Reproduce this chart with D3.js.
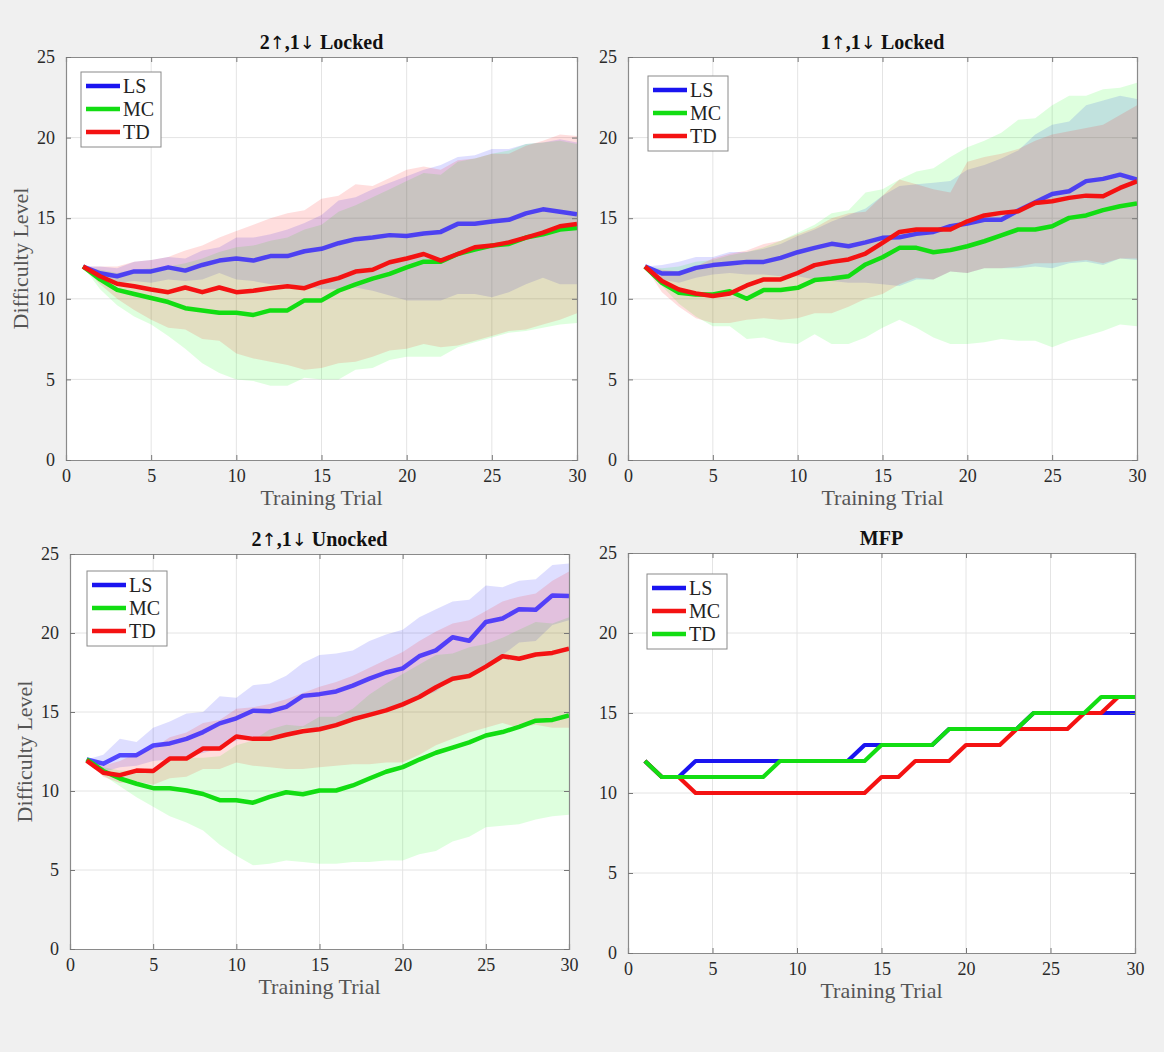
<!DOCTYPE html>
<html><head><meta charset="utf-8">
<script src="https://cdn.jsdelivr.net/npm/d3@7"></script>
<style>body{margin:0;background:#f0f0f0}</style>
</head><body>
<svg id="chart" width="1164" height="1052"></svg>
<script>
// ---------------- DATA ----------------
const trials = [1,2,3,4,5,6,7,8,9,10,11,12,13,14,15,16,17,18,19,20,21,22,23,24,25,26,27,28,29,30];
const xTicks = [0,5,10,15,20,25,30];
const yTicks = [0,5,10,15,20,25];
const panelTitles = ["2\u2191,1\u2193 Locked", "1\u2191,1\u2193 Locked", "2\u2191,1\u2193 Unocked", "MFP"];
const seriesNames = ["LS", "MC", "TD"];
const mfpNames = ["LS", "MC", "TD"];

// Panel 1: 2↑,1↓ Locked
const p1_LS_mean  = [12,11.58,11.4,11.7,11.7,11.95,11.75,12.1,12.37,12.5,12.37,12.65,12.65,12.95,13.1,13.45,13.7,13.8,13.95,13.9,14.05,14.15,14.65,14.65,14.8,14.9,15.3,15.55,15.4,15.25];
const p1_LS_upper = [12,12.0,11.9,12.3,12.4,12.6,12.5,13.0,13.2,13.8,13.8,14.0,14.3,14.7,15.2,16.1,16.3,16.8,17.2,17.6,18.0,18.3,18.8,18.9,19.3,19.3,19.6,19.7,19.9,19.7];
const p1_LS_lower = [12,11.3,11.0,11.1,11.0,11.2,11.1,11.2,11.6,11.2,11.1,10.9,10.9,10.8,10.6,10.6,10.7,10.5,10.2,9.9,9.9,9.9,10.3,10.3,10.1,10.4,10.9,11.3,10.9,10.9];
const p1_MC_mean  = [12,11.2,10.55,10.3,10.05,9.8,9.42,9.28,9.13,9.13,9.0,9.28,9.28,9.9,9.9,10.5,10.9,11.25,11.55,11.95,12.3,12.3,12.78,13.05,13.3,13.4,13.8,14.0,14.3,14.4];
const p1_MC_upper = [12,11.8,11.6,11.8,11.9,12.0,12.2,12.5,12.9,13.2,13.3,13.6,13.8,14.3,14.6,15.4,15.8,16.3,16.8,17.3,17.8,17.7,18.5,18.7,19.0,19.2,19.6,19.7,19.8,19.6];
const p1_MC_lower = [12,10.6,9.6,8.9,8.4,7.7,6.9,6.0,5.4,5.0,4.9,4.6,4.6,5.1,5.0,5.0,5.6,5.7,6.2,6.4,6.4,6.4,7.0,7.3,7.6,7.9,8.0,8.2,8.4,8.5];
const p1_TD_mean  = [12,11.4,10.93,10.78,10.58,10.41,10.7,10.41,10.7,10.41,10.5,10.66,10.78,10.66,11.03,11.28,11.69,11.8,12.27,12.5,12.78,12.37,12.78,13.2,13.3,13.5,13.8,14.1,14.5,14.64];
const p1_TD_upper = [12,12.0,12.0,12.3,12.4,12.6,13.0,13.3,13.8,14.2,14.6,15.0,15.3,15.5,16.2,16.4,17.1,17.0,17.5,18.0,18.2,18.0,18.6,18.7,19.0,19.0,19.5,19.8,20.2,20.1];
const p1_TD_lower = [12,10.9,10.0,9.3,8.7,8.2,8.1,7.5,7.4,6.6,6.3,6.1,5.9,5.6,5.7,6.0,6.1,6.4,6.8,6.9,7.2,7.0,7.1,7.4,7.7,8.0,8.1,8.4,8.7,9.1];

// Panel 2: 1↑,1↓ Locked
const p2_LS_mean  = [12.02,11.57,11.57,11.92,12.09,12.19,12.29,12.29,12.54,12.89,13.16,13.41,13.26,13.5,13.78,13.82,14.03,14.15,14.5,14.67,14.9,14.9,15.48,15.99,16.5,16.67,17.3,17.44,17.7,17.4];
const p2_LS_upper = [12,12.1,12.3,12.6,12.6,12.9,12.9,13.1,13.4,13.9,14.3,14.8,15.2,15.6,16.4,17.0,17.1,17.2,17.3,18.0,18.3,18.7,19.2,20.2,20.8,21.0,22.0,22.3,22.6,22.4];
const p2_LS_lower = [12,11.2,11.0,11.3,11.5,11.6,11.5,11.5,11.4,11.4,11.2,11.1,11.0,11.0,10.9,10.8,11.2,11.2,11.7,11.6,11.9,11.9,11.9,12.0,11.9,12.2,12.3,12.1,12.5,12.4];
const p2_MC_mean  = [12,10.99,10.37,10.27,10.27,10.47,10.0,10.54,10.54,10.68,11.16,11.26,11.4,12.13,12.58,13.16,13.16,12.89,13.02,13.26,13.57,13.93,14.3,14.3,14.5,15.02,15.17,15.5,15.74,15.91];
const p2_MC_upper = [12,11.9,12.0,12.3,12.4,12.7,12.9,13.2,13.6,14.1,14.6,15.3,15.5,16.6,16.8,17.4,17.9,18.1,18.8,19.4,19.8,20.3,21.1,21.2,22.0,22.6,22.6,23.0,23.1,23.4];
const p2_MC_lower = [12,10.8,9.7,8.9,8.3,8.3,7.5,7.6,7.3,7.2,7.8,7.2,7.2,7.6,8.2,8.7,8.2,7.6,7.2,7.2,7.3,7.5,7.4,7.4,7.0,7.4,7.7,8.0,8.4,8.3];
const p2_TD_mean  = [12,11.1,10.58,10.33,10.17,10.33,10.83,11.2,11.2,11.6,12.09,12.29,12.44,12.81,13.47,14.15,14.3,14.3,14.3,14.81,15.17,15.33,15.43,15.95,16.05,16.26,16.4,16.36,16.88,17.29];
const p2_TD_upper = [12,11.8,11.7,12.0,12.5,12.8,13.0,13.4,13.6,14.0,14.4,15.0,15.3,15.4,16.4,17.4,17.1,16.8,16.6,18.5,18.8,19.0,19.3,19.8,20.2,20.4,20.6,20.8,21.4,22.0];
const p2_TD_lower = [12,10.4,9.5,8.8,8.5,8.5,8.7,8.8,8.7,8.8,9.1,9.1,9.5,10.0,10.3,10.9,11.3,11.2,11.7,11.6,11.9,11.9,12.0,12.2,12.2,12.3,12.4,12.2,12.5,12.5];

// Panel 3: 2↑,1↓ Unocked
const p3_LS_mean  = [11.99,11.73,12.27,12.27,12.88,13.01,13.3,13.73,14.28,14.6,15.08,15.04,15.32,16.02,16.13,16.3,16.67,17.11,17.5,17.76,18.53,18.9,19.73,19.51,20.7,20.92,21.51,21.47,22.38,22.34];
const p3_LS_upper = [12,12.3,13.3,13.1,14.0,14.4,14.9,15.0,16.0,15.9,16.7,16.8,17.3,18.1,18.6,18.7,18.9,19.5,19.9,20.2,21.0,21.5,22.0,22.1,23.0,22.9,23.3,23.4,24.3,24.4];
const p3_LS_lower = [12,11.2,11.5,11.6,11.9,12.0,12.2,12.4,12.7,13.2,13.4,13.5,13.6,14.0,14.0,14.1,14.5,14.8,15.1,15.3,15.9,16.3,17.1,17.2,18.0,18.6,19.4,19.5,20.5,20.8];
const p3_MC_mean  = [12,11.27,10.79,10.46,10.18,10.18,10.03,9.81,9.42,9.42,9.26,9.63,9.92,9.79,10.03,10.03,10.35,10.79,11.22,11.51,11.99,12.42,12.75,13.08,13.51,13.73,14.06,14.45,14.5,14.78];
const p3_MC_upper = [12,11.5,11.3,11.3,11.4,11.9,12.1,12.1,12.2,12.9,13.2,13.9,14.2,14.1,14.7,14.7,15.2,16.1,16.8,17.4,18.0,18.6,18.7,19.1,19.3,19.7,20.2,20.7,20.6,21.0];
const p3_MC_lower = [12,11.0,10.3,9.6,9.0,8.4,8.0,7.5,6.6,5.9,5.3,5.4,5.6,5.5,5.4,5.4,5.5,5.5,5.6,5.6,6.0,6.2,6.8,7.1,7.7,7.8,7.9,8.2,8.4,8.5];
const p3_TD_mean  = [11.92,11.16,11.0,11.29,11.27,12.05,12.05,12.69,12.69,13.45,13.3,13.3,13.56,13.78,13.91,14.17,14.54,14.82,15.1,15.48,15.95,16.57,17.11,17.28,17.87,18.53,18.37,18.64,18.74,19.0];
const p3_TD_upper = [12,11.6,11.9,12.4,12.7,13.4,13.7,14.3,14.5,15.2,15.3,15.5,15.8,16.2,16.6,16.9,17.3,17.8,18.3,18.8,19.5,20.1,20.6,20.8,21.4,22.0,22.3,22.5,23.3,23.9];
const p3_TD_lower = [12,10.9,10.5,10.6,10.4,10.8,10.9,11.4,11.4,11.8,11.6,11.5,11.4,11.4,11.5,11.6,11.7,11.7,11.8,11.8,12.3,12.9,13.3,13.7,14.0,14.3,14.0,14.2,14.0,14.0];

// Panel 4: MFP (step values)
const p4_LS = [12,11,11,12,12,12,12,12,12,12,12,12,12,13,13,13,13,13,14,14,14,14,14,15,15,15,15,15,15,15];
const p4_MC = [12,11,11,10,10,10,10,10,10,10,10,10,10,10,11,11,12,12,12,13,13,13,14,14,14,14,15,15,16,16];
const p4_TD = [12,11,11,11,11,11,11,11,12,12,12,12,12,12,13,13,13,13,14,14,14,14,14,15,15,15,15,16,16,16];

// ---------------- STYLE / LAYOUT ----------------
const C = {LS: "#1a14f0", MC: "#12dd12", TD: "#f41212"};
const FILL = {LS: "#0000ff", MC: "#00ff00", TD: "#ff0000"};
const layout = [
  {left: 66,  right: 577,  top: 57,  bottom: 460, ylabel: true,  lx: 15, ly: 15},
  {left: 628, right: 1137, top: 57,  bottom: 460, ylabel: false, lx: 20, ly: 19},
  {left: 70,  right: 569,  top: 554, bottom: 949, ylabel: true,  lx: 17, ly: 17},
  {left: 628, right: 1135, top: 553, bottom: 953, ylabel: false, lx: 19, ly: 21}
];

const svg = d3.select("#chart");
svg.append("rect").attr("width", 1164).attr("height", 1052).attr("fill", "#f0f0f0");

const bandPanels = [
  [ {name:"LS", mean:p1_LS_mean, upper:p1_LS_upper, lower:p1_LS_lower},
    {name:"MC", mean:p1_MC_mean, upper:p1_MC_upper, lower:p1_MC_lower},
    {name:"TD", mean:p1_TD_mean, upper:p1_TD_upper, lower:p1_TD_lower} ],
  [ {name:"LS", mean:p2_LS_mean, upper:p2_LS_upper, lower:p2_LS_lower},
    {name:"MC", mean:p2_MC_mean, upper:p2_MC_upper, lower:p2_MC_lower},
    {name:"TD", mean:p2_TD_mean, upper:p2_TD_upper, lower:p2_TD_lower} ],
  [ {name:"LS", mean:p3_LS_mean, upper:p3_LS_upper, lower:p3_LS_lower},
    {name:"MC", mean:p3_MC_mean, upper:p3_MC_upper, lower:p3_MC_lower},
    {name:"TD", mean:p3_TD_mean, upper:p3_TD_upper, lower:p3_TD_lower} ]
];
const mfpSeries = [
  {name: mfpNames[0], values: p4_LS, color: C.LS},
  {name: mfpNames[1], values: p4_MC, color: C.TD},
  {name: mfpNames[2], values: p4_TD, color: C.MC}
];

const serif = "'Liberation Serif','Times New Roman',serif";

function frame(idx) {
  const L = layout[idx];
  const g = svg.append("g");
  const x = d3.scaleLinear().domain([0, 30]).range([L.left, L.right]);
  const y = d3.scaleLinear().domain([0, 25]).range([L.bottom, L.top]);
  g.append("rect").attr("x", L.left).attr("y", L.top)
    .attr("width", L.right - L.left).attr("height", L.bottom - L.top).attr("fill", "#ffffff");
  g.append("g").selectAll("line").data(xTicks.slice(1, -1)).join("line")
    .attr("x1", d => x(d)).attr("x2", d => x(d)).attr("y1", L.top).attr("y2", L.bottom)
    .attr("stroke", "#e4e4e4").attr("stroke-width", 1);
  g.append("g").selectAll("line").data(yTicks.slice(1, -1)).join("line")
    .attr("y1", d => y(d)).attr("y2", d => y(d)).attr("x1", L.left).attr("x2", L.right)
    .attr("stroke", "#e4e4e4").attr("stroke-width", 1);
  const clipId = "clip" + idx;
  svg.append("clipPath").attr("id", clipId).append("rect")
    .attr("x", L.left).attr("y", L.top).attr("width", L.right - L.left).attr("height", L.bottom - L.top);
  const plot = g.append("g").attr("clip-path", `url(#${clipId})`);
  return {g, plot, x, y, L};
}

function titleText(sel, txt) {
  for (const ch of txt) {
    const isArrow = ch === "\u2191" || ch === "\u2193";
    sel.append("tspan")
      .attr("font-family", isArrow ? "'DejaVu Sans',sans-serif" : serif)
      .attr("font-size", isArrow ? 18 : 20)
      .attr("font-weight", isArrow ? "normal" : "bold")
      .text(ch);
  }
}

function axesOverlay(f, idx) {
  const {g, x, y, L} = f;
  const axB = d3.axisBottom(x).tickValues(xTicks).tickSize(-5).tickPadding(9);
  const axT = d3.axisTop(x).tickValues(xTicks).tickSize(-5).tickFormat("");
  const axL = d3.axisLeft(y).tickValues(yTicks).tickSize(-5).tickPadding(11);
  const axR = d3.axisRight(y).tickValues(yTicks).tickSize(-5).tickFormat("");
  const style = sel => {
    sel.selectAll("path").attr("stroke", "#8a8a8a").attr("stroke-width", 1.2);
    sel.selectAll("line").attr("stroke", "#777");
    sel.selectAll("text").attr("font-family", serif).attr("font-size", 18).attr("fill", "#2a2a2a");
  };
  g.append("g").attr("transform", `translate(0,${L.bottom})`).call(axB).call(style);
  g.append("g").attr("transform", `translate(0,${L.top})`).call(axT).call(style);
  g.append("g").attr("transform", `translate(${L.left},0)`).call(axL).call(style);
  g.append("g").attr("transform", `translate(${L.right},0)`).call(axR).call(style);
  const t = g.append("text").attr("x", (L.left + L.right) / 2).attr("y", L.top - 8)
    .attr("text-anchor", "middle").attr("fill", "#111");
  titleText(t, panelTitles[idx]);
  g.append("text").attr("x", (L.left + L.right) / 2).attr("y", L.bottom + 45)
    .attr("text-anchor", "middle").attr("font-family", serif).attr("font-size", 22)
    .attr("fill", "#555").text("Training Trial");
  if (L.ylabel) {
    g.append("text").attr("transform", `translate(${L.left - 38},${(L.top + L.bottom) / 2}) rotate(-90)`)
      .attr("text-anchor", "middle").attr("font-family", serif).attr("font-size", 22)
      .attr("fill", "#555").text("Difficulty Level");
  }
}

function legend(f, entries) {
  const {g, L} = f;
  const lx = L.left + L.lx, ly = L.top + L.ly;
  const lg = g.append("g").attr("transform", `translate(${lx},${ly})`);
  lg.append("rect").attr("width", 80).attr("height", 75).attr("fill", "#fff")
    .attr("stroke", "#8a8a8a").attr("stroke-width", 1);
  entries.forEach((e, i) => {
    const cy = 14 + i * 23;
    lg.append("line").attr("x1", 5).attr("x2", 39).attr("y1", cy).attr("y2", cy)
      .attr("stroke", e.color).attr("stroke-width", 4.5);
    lg.append("text").attr("x", 42).attr("y", cy + 7).attr("font-family", serif)
      .attr("font-size", 20).attr("fill", "#222").text(e.name);
  });
}

// Band panels
bandPanels.forEach((series, idx) => {
  const f = frame(idx);
  const {plot, x, y} = f;
  const line = d3.line().x((d, i) => x(trials[i])).y(d => y(d));
  series.forEach(s => {
    const area = d3.area().x((d, i) => x(trials[i])).y0((d, i) => y(s.lower[i])).y1(d => y(d));
    plot.append("path").datum(s.upper).attr("d", area)
      .attr("fill", FILL[s.name]).attr("fill-opacity", 0.13).attr("stroke", "none");
  });
  series.forEach(s => {
    plot.append("path").datum(s.mean).attr("d", line).attr("fill", "none")
      .attr("stroke", s.name === "LS" ? "#2a1cff" : C[s.name])
      .attr("stroke-opacity", s.name === "LS" ? 0.78 : 1)
      .attr("stroke-width", 4.5).attr("stroke-linejoin", "round");
  });
  axesOverlay(f, idx);
  legend(f, seriesNames.map(n => ({name: n, color: C[n]})));
});

// MFP panel
(function () {
  const f = frame(3);
  const {plot, x, y} = f;
  const line = d3.line().x((d, i) => x(trials[i])).y(d => y(d));
  mfpSeries.forEach(s => {
    plot.append("path").datum(s.values).attr("d", line).attr("fill", "none")
      .attr("stroke", s.color).attr("stroke-width", 4.2).attr("stroke-linejoin", "round");
  });
  axesOverlay(f, 3);
  legend(f, mfpSeries.map(s => ({name: s.name, color: s.color})));
})();
</script>
</body></html>
